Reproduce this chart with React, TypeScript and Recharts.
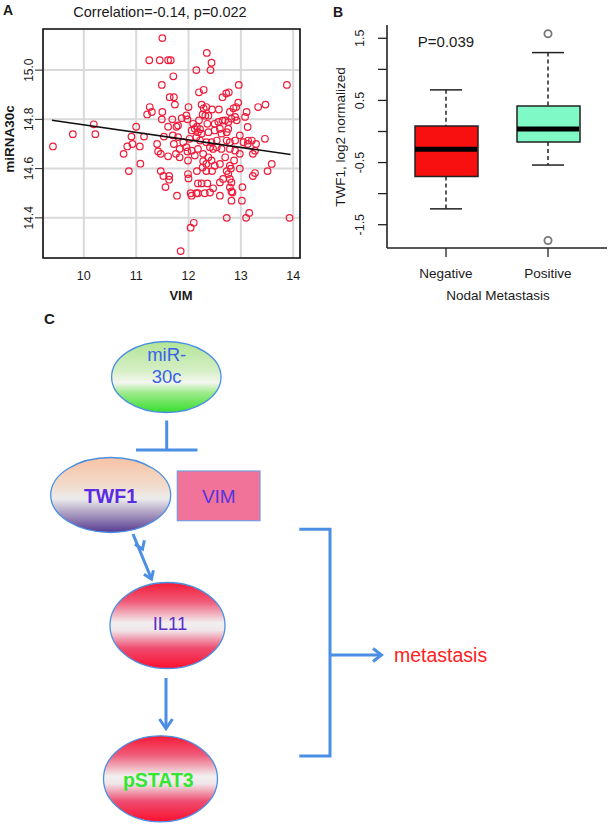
import React from "react";
import {
  ScatterChart,
  Scatter,
  XAxis,
  YAxis,
  CartesianGrid,
  ReferenceArea,
  ComposedChart,
  Bar,
  Cell,
  ReferenceLine,
} from "recharts";

const FONT = "'Liberation Sans', Arial, Helvetica, sans-serif";
const INK = "#1a1a1a";

// ---- panel A: VIM vs miRNA30c ----
const vimTicks = [10, 11, 12, 13, 14];
const mirTicks = [14.4, 14.6, 14.8, 15.0];
const vimMirPoints: [number, number][] = [
  [11.5, 15.13], [12.35, 15.07], [11.25, 15.04], [11.45, 15.04], [11.61, 15.04], [11.66, 15.04],
  [12.44, 15.03], [12.15, 15.0], [12.42, 15.0], [11.71, 14.975], [11.49, 14.94], [12.96, 14.94],
  [13.88, 14.94], [12.29, 14.92], [12.2, 14.91], [12.77, 14.91], [12.72, 14.905], [12.65, 14.89],
  [11.64, 14.89], [11.72, 14.89], [12.95, 14.868], [11.74, 14.86], [12.25, 14.86], [13.47, 14.86],
  [11.26, 14.85], [12.0, 14.85], [12.34, 14.85], [12.91, 14.85], [13.33, 14.85], [12.29, 14.845],
  [12.86, 14.845], [12.45, 14.84], [12.58, 14.84], [13.11, 14.83], [12.79, 14.83], [11.3, 14.83],
  [11.5, 14.83], [11.21, 14.82], [12.27, 14.82], [12.32, 14.815], [12.38, 14.815], [11.96, 14.816],
  [12.89, 14.81], [13.08, 14.81],
  [11.49, 14.8], [11.69, 14.8], [11.87, 14.805], [11.98, 14.8], [12.2, 14.796], [12.65, 14.795],
  [12.7, 14.796], [12.82, 14.803], [12.92, 14.796], [12.57, 14.79], [12.76, 14.789], [10.19, 14.78],
  [12.09, 14.782], [12.36, 14.782], [12.5, 14.782],
  [11.0, 14.77], [11.61, 14.77], [11.77, 14.77], [11.8, 14.775], [12.16, 14.77], [13.13, 14.769],
  [12.22, 14.76], [12.12, 14.762], [12.6, 14.762], [12.76, 14.762], [12.06, 14.755], [12.5, 14.755],
  [12.18, 14.748], [12.38, 14.748], [12.73, 14.748], [12.25, 14.742], [12.63, 14.742],
  [9.79, 14.74], [10.22, 14.74], [10.91, 14.73], [11.15, 14.73], [11.53, 14.73], [11.7, 14.735],
  [12.98, 14.735], [11.8, 14.728], [12.15, 14.728], [12.02, 14.721], [13.46, 14.721], [12.22, 14.714],
  [12.54, 14.714], [12.73, 14.714], [12.89, 14.714], [13.14, 14.714], [13.21, 14.714], [11.9, 14.707],
  [12.34, 14.707], [12.44, 14.707], [12.79, 14.707], [13.05, 14.707],
  [10.93, 14.7], [11.4, 14.7], [11.72, 14.7], [13.13, 14.7], [13.29, 14.7], [9.41, 14.69],
  [10.83, 14.69], [11.07, 14.69], [11.96, 14.687], [12.41, 14.687], [12.54, 14.687], [11.83, 14.68],
  [12.18, 14.68], [12.47, 14.68], [12.63, 14.68], [12.79, 14.68], [11.42, 14.67], [11.98, 14.67],
  [12.06, 14.673], [12.89, 14.673], [13.27, 14.673],
  [10.76, 14.66], [11.47, 14.66], [11.76, 14.66], [12.28, 14.66], [12.98, 14.66], [13.23, 14.66],
  [11.61, 14.65], [12.12, 14.653], [11.83, 14.646], [12.38, 14.646], [12.7, 14.646],
  [11.99, 14.633], [12.44, 14.633], [12.87, 14.633], [12.28, 14.63], [11.08, 14.62], [12.34, 14.619],
  [12.6, 14.619], [13.59, 14.619], [12.5, 14.612], [12.79, 14.612], [12.81, 14.6], [12.27, 14.605],
  [12.98, 14.6],
  [10.86, 14.59], [11.47, 14.59], [12.16, 14.59], [12.34, 14.59], [12.45, 14.59], [12.73, 14.59],
  [13.51, 14.59], [13.27, 14.582], [11.99, 14.578], [12.76, 14.578],
  [11.52, 14.57], [11.63, 14.57], [13.23, 14.57], [11.63, 14.555], [12.0, 14.56], [12.66, 14.558],
  [12.79, 14.558], [12.18, 14.54], [12.25, 14.54], [12.36, 14.54], [12.6, 14.544], [12.82, 14.544],
  [11.56, 14.525], [12.47, 14.52], [12.79, 14.524], [13.03, 14.525],
  [12.04, 14.5], [12.15, 14.5], [12.18, 14.5], [12.31, 14.5], [12.41, 14.503], [12.82, 14.507],
  [12.84, 14.503], [11.78, 14.49], [12.06, 14.49], [12.6, 14.49], [12.82, 14.47], [13.02, 14.47],
  [13.16, 14.42], [12.73, 14.4], [13.1, 14.4], [13.93, 14.4], [12.1, 14.38], [12.04, 14.36],
  [11.85, 14.265],
];
const fitVim = [9.39, 13.95];
const fitMir = [14.796, 14.657];

// ---- panel B: TWF1 by nodal status ----
const groups = ["Negative", "Positive"];
const whiskerLow = [-1.245, -0.54];
const quart1 = [-0.725, -0.17];
const medians = [-0.285, 0.04];
const quart3 = [0.09, 0.41];
const whiskerHigh = [0.67, 1.27];
const outlierHigh = [null, 1.574];
const outlierLow = [null, -1.754];
const boxColors = ["#f80f0f", "#7ff9c6"];
const twfTicks = [-1.5, -1, -0.5, 0, 0.5, 1, 1.5];
const twfLabelled = [-1.5, -0.5, 0.5, 1.5];

const scatterData = vimMirPoints.map(([vim, mir]) => ({ vim, mir }));
const fitData = fitVim.map((vim, i) => ({ vim, mir: fitMir[i] }));
const boxRows = groups.map((group, i) => ({
  group,
  box: [quart1[i], quart3[i]],
  lo: whiskerLow[i],
  hi: whiskerHigh[i],
  med: medians[i],
  outHi: outlierHigh[i],
  outLo: outlierLow[i],
}));

const A_DOMAIN_X: [number, number] = [9.22, 14.13];
const A_DOMAIN_Y: [number, number] = [14.237, 15.167];
const B_DOMAIN_Y: [number, number] = [-1.875, 1.714];

function rotatedTick(fontSize: number, keep?: number[]) {
  return (props: any) => {
    const { x, y, payload } = props;
    if (keep && !keep.includes(payload.value)) return <g />;
    return (
      <text
        x={x}
        y={y}
        transform={`rotate(-90 ${x} ${y})`}
        textAnchor="middle"
        fontSize={fontSize}
        fontFamily={FONT}
        fill={INK}
      >
        {Number(payload.value).toFixed(1)}
      </text>
    );
  };
}

const openCircle = (p: any) => (
  <circle cx={p.cx} cy={p.cy} r={3.3} fill="none" stroke="#ee1c3a" strokeWidth={1.2} />
);

const capShape = (p: any) => (
  <line x1={p.cx - 16} x2={p.cx + 16} y1={p.cy} y2={p.cy} stroke="#222" strokeWidth={1.5} />
);

const medianShape = (p: any) => (
  <line x1={p.cx - 31} x2={p.cx + 31} y1={p.cy} y2={p.cy} stroke="#000" strokeWidth={5} />
);

const outlierShape = (key: string) => (p: any) =>
  p.payload[key] == null ? (
    <g />
  ) : (
    <circle cx={p.cx} cy={p.cy} r={3.6} fill="#fff" stroke="#777" strokeWidth={1.8} />
  );

function ScatterPanel() {
  return (
    <ScatterChart width={310} height={310} margin={{ top: 29, right: 10, bottom: 12, left: 8 }}>
      <CartesianGrid stroke="#d9d9d9" strokeWidth={2} />
      <XAxis
        type="number"
        dataKey="vim"
        domain={A_DOMAIN_X}
        ticks={vimTicks}
        interval={0}
        height={40}
        tickSize={0}
        tickMargin={13}
        axisLine={false}
        tickLine={false}
        tick={{ fontSize: 12.5, fill: INK, fontFamily: FONT }}
      />
      <YAxis
        type="number"
        dataKey="mir"
        domain={A_DOMAIN_Y}
        ticks={mirTicks}
        interval={0}
        width={35}
        tickSize={8}
        tickMargin={2}
        axisLine={false}
        tickLine={{ stroke: "#222" }}
        tick={rotatedTick(12)}
      />
      <ReferenceArea
        x1={A_DOMAIN_X[0]}
        x2={A_DOMAIN_X[1]}
        y1={A_DOMAIN_Y[0]}
        y2={A_DOMAIN_Y[1]}
        fill="#fff"
        fillOpacity={0}
        stroke="#111"
        strokeWidth={1.6}
      />
      <Scatter data={scatterData} shape={openCircle} isAnimationActive={false} />
      <Scatter
        data={fitData}
        line={{ stroke: "#111", strokeWidth: 1.5 }}
        shape={() => <g />}
        isAnimationActive={false}
      />
    </ScatterChart>
  );
}

function BoxPanel() {
  return (
    <ComposedChart
      width={300}
      height={310}
      data={boxRows}
      margin={{ top: 25, right: 3, bottom: 12, left: 10 }}
      barGap={0}
    >
      <XAxis
        dataKey="group"
        padding={{ left: 8, right: 8 }}
        height={50}
        tickSize={9}
        tickMargin={11}
        interval={0}
        axisLine={{ stroke: "#222", strokeWidth: 1.6 }}
        tickLine={{ stroke: "#222", strokeWidth: 1.3 }}
        tick={{ fontSize: 13.5, fill: INK, fontFamily: FONT }}
      />
      <XAxis
        xAxisId="top"
        orientation="top"
        dataKey="group"
        padding={{ left: 8, right: 8 }}
        height={0}
        tick={false}
        tickLine={false}
        axisLine={{ stroke: "#222", strokeWidth: 1.6 }}
      />
      <YAxis
        type="number"
        domain={B_DOMAIN_Y}
        ticks={twfTicks}
        interval={0}
        width={67}
        tickSize={9}
        tickMargin={14}
        axisLine={{ stroke: "#222", strokeWidth: 1.6 }}
        tickLine={{ stroke: "#222", strokeWidth: 1.3 }}
        tick={rotatedTick(12.5, twfLabelled)}
      />
      <YAxis
        yAxisId="right"
        orientation="right"
        type="number"
        domain={B_DOMAIN_Y}
        width={0}
        tick={false}
        tickLine={false}
        axisLine={{ stroke: "#222", strokeWidth: 1.6 }}
      />
      {boxRows.map((r) => (
        <ReferenceLine
          key={`hi-${r.group}`}
          segment={[
            { x: r.group, y: r.hi },
            { x: r.group, y: r.box[1] },
          ]}
          stroke="#222"
          strokeWidth={1.5}
          strokeDasharray="4 3"
        />
      ))}
      {boxRows.map((r) => (
        <ReferenceLine
          key={`lo-${r.group}`}
          segment={[
            { x: r.group, y: r.box[0] },
            { x: r.group, y: r.lo },
          ]}
          stroke="#222"
          strokeWidth={1.5}
          strokeDasharray="4 3"
        />
      ))}
      <Bar dataKey="box" barSize={63} stroke="#222" strokeWidth={1.5} isAnimationActive={false}>
        {boxRows.map((r, i) => (
          <Cell key={r.group} fill={boxColors[i]} />
        ))}
      </Bar>
      <Scatter dataKey="hi" shape={capShape} isAnimationActive={false} />
      <Scatter dataKey="lo" shape={capShape} isAnimationActive={false} />
      <Scatter dataKey="med" shape={medianShape} isAnimationActive={false} />
      <Scatter dataKey="outHi" shape={outlierShape("outHi")} isAnimationActive={false} />
      <Scatter dataKey="outLo" shape={outlierShape("outLo")} isAnimationActive={false} />
    </ComposedChart>
  );
}

const BLUE = "#4a8fe3";

function Overlay() {
  return (
    <svg
      width={610}
      height={830}
      style={{ position: "absolute", left: 0, top: 0, pointerEvents: "none" }}
      fontFamily={FONT}
    >
      <defs>
        <linearGradient id="gGreen" x1="0" y1="0" x2="0" y2="1">
          <stop offset="0" stopColor="#b2e496" />
          <stop offset="0.42" stopColor="#d6efc6" />
          <stop offset="0.58" stopColor="#f4f6f0" />
          <stop offset="0.72" stopColor="#9fea8c" />
          <stop offset="1" stopColor="#36de2e" />
        </linearGradient>
        <linearGradient id="gPurple" x1="0" y1="0" x2="0" y2="1">
          <stop offset="0" stopColor="#f7c2a4" />
          <stop offset="0.38" stopColor="#f2dccc" />
          <stop offset="0.55" stopColor="#ececec" />
          <stop offset="0.72" stopColor="#b3a7c6" />
          <stop offset="1" stopColor="#573a92" />
        </linearGradient>
        <linearGradient id="gRed" x1="0" y1="0" x2="0" y2="1">
          <stop offset="0" stopColor="#f41a36" />
          <stop offset="0.22" stopColor="#ef5a78" />
          <stop offset="0.47" stopColor="#f2f0f0" />
          <stop offset="0.56" stopColor="#f0e4e8" />
          <stop offset="0.76" stopColor="#ef4d70" />
          <stop offset="1" stopColor="#fb1030" />
        </linearGradient>
      </defs>

      {/* panel A texts */}
      <text x={3} y={15} fontSize={14} fontWeight="bold" fill={INK}>A</text>
      <text x={160} y={17} fontSize={14.5} textAnchor="middle" fill={INK}>
        Correlation=-0.14, p=0.022
      </text>
      <text
        x={13.5}
        y={139}
        transform="rotate(-90 13.5 139)"
        textAnchor="middle"
        fontSize={13.5}
        fontWeight="bold"
        fill={INK}
      >
        miRNA30c
      </text>
      <text x={181} y={300} textAnchor="middle" fontSize={13} fontWeight="bold" fill={INK}>
        VIM
      </text>

      {/* panel B texts */}
      <text x={333} y={17} fontSize={14} fontWeight="bold" fill={INK}>B</text>
      <text x={446} y={47} textAnchor="middle" fontSize={15} fill={INK}>P=0.039</text>
      <text
        x={345}
        y={137}
        transform="rotate(-90 345 137)"
        textAnchor="middle"
        fontSize={13.5}
        fill={INK}
      >
        TWF1, log2 normalized
      </text>
      <text x={498} y={300} textAnchor="middle" fontSize={13.5} fill={INK}>
        Nodal Metastasis
      </text>

      {/* panel C diagram */}
      <text x={44} y={324} fontSize={15} fontWeight="bold" fill={INK}>C</text>

      <ellipse cx={166.3} cy={377} rx={54.7} ry={35.5} fill="url(#gGreen)" stroke={BLUE} strokeWidth={1.3} />
      <text x={166.7} y={361} textAnchor="middle" fontSize={18.5} fill="#3a62ea">miR-</text>
      <text x={166.7} y={383} textAnchor="middle" fontSize={18.5} fill="#3a62ea">30c</text>

      <line x1={166.7} y1={420.5} x2={166.7} y2={450} stroke={BLUE} strokeWidth={3} />
      <line x1={136} y1={450} x2={197.5} y2={450} stroke={BLUE} strokeWidth={3} />

      <ellipse cx={110.7} cy={495} rx={60} ry={37.5} fill="url(#gPurple)" stroke={BLUE} strokeWidth={1.3} />
      <text x={110.5} y={503} textAnchor="middle" fontSize={19.5} fontWeight="bold" fill="#5a2be0">
        TWF1
      </text>

      <rect x={177.3} y={471} width={82.7} height={49.7} fill="#f2739a" stroke="#7a9ae0" strokeWidth={1.2} />
      <text x={218.8} y={503} textAnchor="middle" fontSize={19} fill="#5533dd">VIM</text>

      <line x1={133} y1={534} x2={151.5} y2={579} stroke={BLUE} strokeWidth={3} />
      <polyline points="144.4,540.2 142.5,549 134.9,544.2" fill="none" stroke={BLUE} strokeWidth={3} />
      <polyline points="153.4,570.2 151.5,579 143.9,574.2" fill="none" stroke={BLUE} strokeWidth={3} />

      <ellipse cx={167.5} cy={625.5} rx={57.5} ry={43} fill="url(#gRed)" stroke={BLUE} strokeWidth={1.3} />
      <text x={170} y={630} textAnchor="middle" fontSize={18.5} fill="#5530cc">IL11</text>

      <line x1={166} y1={678} x2={166} y2={728} stroke={BLUE} strokeWidth={3} />
      <polyline points="159.5,719 166,728.5 172.5,719" fill="none" stroke={BLUE} strokeWidth={3} />

      <ellipse cx={160.5} cy={778.8} rx={57} ry={43} fill="url(#gRed)" stroke={BLUE} strokeWidth={1.3} />
      <text x={158.3} y={787} textAnchor="middle" fontSize={19.5} fontWeight="bold" fill="#33e633">
        pSTAT3
      </text>

      <polyline
        points="299.3,529.3 330,529.3 330,756 299.3,756"
        fill="none"
        stroke={BLUE}
        strokeWidth={3}
      />
      <line x1={330} y1={655} x2={381} y2={655} stroke={BLUE} strokeWidth={3} />
      <polyline points="373,648.5 381.5,655 373,661.5" fill="none" stroke={BLUE} strokeWidth={3} />
      <text x={394} y={661.5} fontSize={19.5} fill="#ff2020">metastasis</text>
    </svg>
  );
}

export default function App() {
  return (
    <div
      style={{
        position: "absolute",
        left: 0,
        top: 0,
        width: 610,
        height: 830,
        background: "#fff",
        fontFamily: FONT,
        overflow: "hidden",
      }}
    >
      <div style={{ position: "absolute", left: 0, top: 0 }}>
        <ScatterPanel />
      </div>
      <div style={{ position: "absolute", left: 310, top: 0 }}>
        <BoxPanel />
      </div>
      <Overlay />
    </div>
  );
}
